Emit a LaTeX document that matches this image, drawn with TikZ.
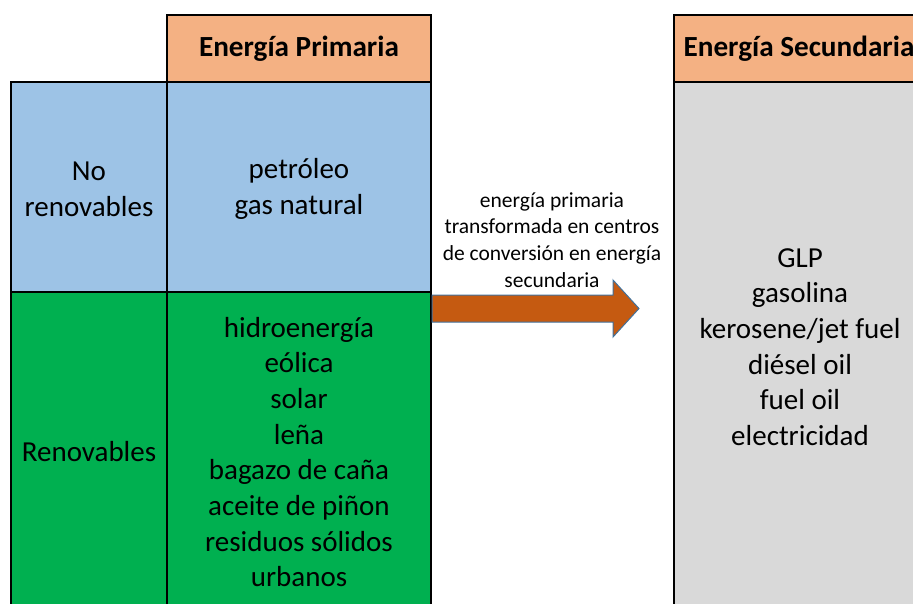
\documentclass[tikz,border=0pt]{standalone}
\usepackage{fontspec}
\setmainfont{Carlito}
\definecolor{hdr}{HTML}{F4B183}
\definecolor{bluec}{HTML}{9DC3E6}
\definecolor{greenc}{HTML}{00B050}
\definecolor{grayc}{HTML}{D9D9D9}
\definecolor{arrowc}{HTML}{C55A11}
\definecolor{arrowline}{HTML}{41719C}
\begin{document}
\begin{tikzpicture}[x=1pt,y=-1pt,
  cell/.style={draw=black, line width=2pt, anchor=north west, inner sep=0pt, outer sep=0pt,
    align=center, text=black, font=\fontsize{29}{35.7}\selectfont},
  headcell/.style={cell, fill=hdr, font=\bfseries\fontsize{29.2}{34}\selectfont},
  arrowlabel/.style={align=center, inner sep=0pt, font=\fontsize{21.5}{26.7}\selectfont}]
\useasboundingbox (0,0) rectangle (913,603);
\clip (0,0) rectangle (913,603);
% primary
\node[headcell, minimum width=264pt, minimum height=67pt] (hp) at (167,15) {Energía Primaria};
\node[cell, fill=bluec, minimum width=156pt, minimum height=214pt] (nr) at (11,82) {No\\renovables};
\node[cell, fill=bluec, minimum width=264pt, minimum height=214pt] (pb) at (167,82) {petróleo\\gas natural};
\node[cell, fill=greenc, minimum width=156pt, minimum height=320pt] (rl) at (11,292) {Renovables};
\node[cell, fill=greenc, minimum width=264pt, minimum height=320pt] (pg) at (167,292)
  {hidroenergía\\eólica\\solar\\leña\\bagazo de caña\\aceite de piñon\\residuos sólidos\\urbanos};
% secondary
\node[headcell, minimum width=250pt, minimum height=67pt] (hs) at (674,15) {Energía Secundaria};
\node[cell, fill=grayc, minimum width=252pt, minimum height=530pt] (gs) at (674,82)
  {GLP\\gasolina\\kerosene/jet fuel\\diésel oil\\fuel oil\\electricidad};
% arrow
\draw[fill=arrowc, draw=arrowline, line width=1pt, line join=miter]
  (432,295) -- (613,295) -- (613,280) -- (639,308.5) -- (613,337) -- (613,322) -- (432,322) -- cycle;
\node[arrowlabel] (lbl) at (552,240)
  {energía primaria\\transformada en centros\\de conversión en energía\\secundaria};
% redraw divider between rows
\draw[line width=2pt] (11,292) -- (431,292);
\end{tikzpicture}
\end{document}
